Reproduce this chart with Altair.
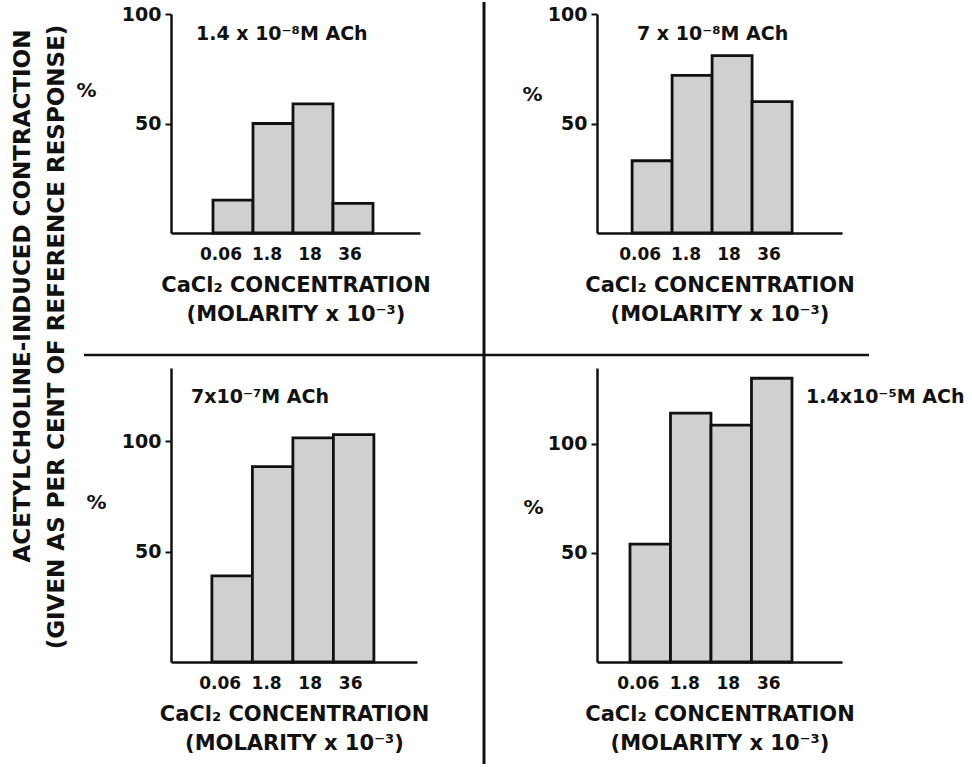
import altair as alt
import pandas as pd

# ---------------- data ----------------
conc = ["0.06", "1.8", "18", "36"]
tl_vals = [15, 50, 59, 13.5]      # 1.4 x 10^-8 M ACh
tr_vals = [33, 72, 81, 60]        # 7 x 10^-8 M ACh
bl_vals = [39, 88.5, 101.5, 103]  # 7 x 10^-7 M ACh
br_vals = [54, 114, 108.5, 130]   # 1.4 x 10^-5 M ACh

panel_labels = ["1.4 x 10⁻⁸M  ACh", "7 x 10⁻⁸M  ACh", "7x10⁻⁷M  ACh", "1.4x10⁻⁵M  ACh"]
x_title = ["CaCl₂  CONCENTRATION", "(MOLARITY x 10⁻³)"]
y_title_1 = ["ACETYLCHOLINE-INDUCED  CONTRACTION"]
y_title_2 = ["(GIVEN  AS  PER  CENT  OF  REFERENCE  RESPONSE)"]
y_ticks = [50, 100]
x_domain = conc + [""]   # empty slot: the axis runs on past the last bar

FONT = "DejaVu Sans"
INK = "#111111"
FILL = "#d0d0d0"

# tick labels sit a little left of their bars in the original lettering
label_shift = {
    "condition": [
        {"test": "datum.value == '0.06'", "value": -12},
        {"test": "datum.value == '1.8'", "value": -6},
    ],
    "value": -3,
}


def panel(vals, label, ymax, w, h, po, align, lx, ly, px, py):
    df = pd.DataFrame({"conc": conc, "pct": vals})
    bars = alt.Chart(df).mark_bar(fill=FILL, stroke=INK, strokeWidth=2.8).encode(
        x=alt.X(
            "conc:N",
            scale=alt.Scale(domain=x_domain, paddingInner=0, paddingOuter=po, align=align),
            axis=alt.Axis(
                title=x_title,
                labelAngle=0,
                ticks=False,
                tickSize=0,
                grid=False,
                labelPadding=13,
                labelFontSize=17,
                labelOffset=label_shift,
                titleFontSize=21,
                titlePadding=12,
                titleLineHeight=29,
            ),
        ),
        y=alt.Y(
            "pct:Q",
            scale=alt.Scale(domain=[0, ymax], nice=False, zero=True),
            axis=alt.Axis(
                values=y_ticks,
                grid=False,
                title="%",
                titleAngle=0,
                titleX=px,
                titleY=py,
                titleAlign="center",
                titleBaseline="middle",
                titleFontSize=20,
                tickSize=6,
                labelPadding=4,
                labelFontSize=19,
            ),
        ),
    )
    lab = alt.Chart(pd.DataFrame({"t": [label]})).mark_text(
        align="left", baseline="middle", font=FONT, fontWeight="bold",
        fontSize=19, color=INK
    ).encode(text="t:N", x=alt.value(lx), y=alt.value(ly))
    return alt.layer(bars, lab).properties(width=w, height=h)


tl = panel(tl_vals, panel_labels[0], 100, 249, 219, 0.6125, 0.857, 25, 20, -85, 76)
tr = panel(tr_vals, panel_labels[1], 100, 245, 219, 0.5625, 0.78, 40, 20, -65, 80)
bl = panel(bl_vals, panel_labels[2], 133.2, 246, 294, 0.537, 0.94, 20, 29, -75, 134)
br = panel(br_vals, panel_labels[3], 134.7, 245, 294, 0.525, 0.776, 209, 29, -64, 139)

one = pd.DataFrame({"a": [0]})
vline = alt.Chart(one).mark_rule(stroke=INK, strokeWidth=3).encode(
    x=alt.value(313), y=alt.value(-12), y2=alt.value(750))
hline = alt.Chart(one).mark_rule(stroke=INK, strokeWidth=2.5).encode(
    y=alt.value(341), x=alt.value(-87), x2=alt.value(698))
yt1 = alt.Chart(pd.DataFrame({"t": y_title_1})).mark_text(
    angle=270, align="center", baseline="middle", font=FONT, fontWeight="bold",
    fontSize=23, color=INK).encode(text="t:N", x=alt.value(-148), y=alt.value(282))
yt2 = alt.Chart(pd.DataFrame({"t": y_title_2})).mark_text(
    angle=270, align="center", baseline="middle", font=FONT, fontWeight="bold",
    fontSize=23, color=INK).encode(text="t:N", x=alt.value(-114), y=alt.value(323))

tl = alt.layer(tl, vline, hline, yt1, yt2)

chart = alt.concat(
    tl, tr, bl, br, columns=2,
    spacing={"row": 135, "column": 177},
    bounds="flush", align="each",
).properties(
    padding={"left": 11, "top": 0, "right": 0, "bottom": 0},
    background="white",
).configure_axis(
    labelFont=FONT, labelFontWeight="bold", labelColor=INK,
    titleFont=FONT, titleFontWeight="bold", titleColor=INK,
    domainColor=INK, domainWidth=2.5, tickColor=INK, tickWidth=2, grid=False,
).configure_view(stroke="transparent")

chart.save("out.html", embed_options={"renderer": "svg", "actions": False})
